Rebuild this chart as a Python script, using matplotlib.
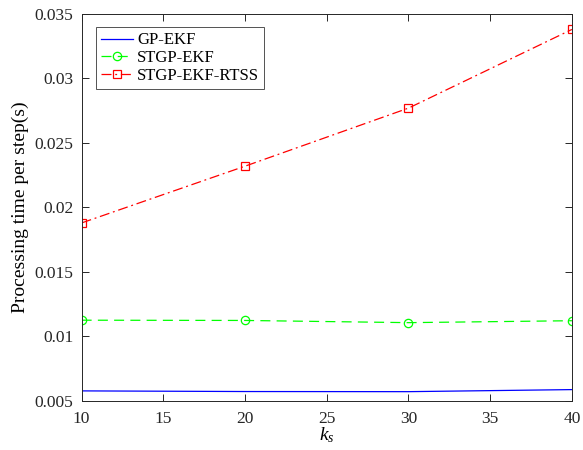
import matplotlib
matplotlib.use("Agg")
import matplotlib.pyplot as plt

ks = [10, 20, 30, 40]
gp_ekf = [0.00578, 0.00573, 0.00572, 0.00588]
stgp_ekf = [0.01126, 0.01124, 0.01107, 0.01122]
stgp_ekf_rtss = [0.0188, 0.0232, 0.0277, 0.0338]
xticks = [10, 15, 20, 25, 30, 35, 40]
yticks = [0.005, 0.01, 0.015, 0.02, 0.025, 0.03, 0.035]
yticklabels = ["0.005", "0.01", "0.015", "0.02", "0.025", "0.03", "0.035"]

plt.rcParams['font.family'] = ['Liberation Serif', 'DejaVu Serif']
plt.rcParams['mathtext.fontset'] = 'custom'
plt.rcParams['mathtext.it'] = 'Liberation Serif:italic'
plt.rcParams['mathtext.rm'] = 'Liberation Serif'

fig = plt.figure(figsize=(5.83, 4.5), dpi=100)
ax = fig.add_axes([0.140, 0.109, 0.841, 0.860])

ax.plot(ks, gp_ekf, color='blue', lw=0.9, label='GP-EKF')
ax.plot(ks, stgp_ekf, color='#00ff00', lw=0.9, ls=(0, (8, 5)), marker='o',
        markersize=6, markerfacecolor='none', markeredgewidth=0.9, label='STGP-EKF')
ax.plot(ks, stgp_ekf_rtss, color='red', lw=0.9, ls=(0, (8, 3, 1.5, 3)), marker='s',
        markersize=6, markerfacecolor='none', markeredgewidth=0.9, label='STGP-EKF-RTSS')

ax.set_xlim(10, 40)
ax.set_ylim(0.005, 0.035)
ax.set_xticks(xticks)
ax.set_yticks(yticks)
ax.set_yticklabels(yticklabels)
ax.tick_params(direction='in', top=True, right=True, length=5, width=0.7,
               labelsize=12.5, colors='#262626', labelcolor='#262626')
ax.tick_params(axis='x', pad=7)
ax.tick_params(axis='y', pad=6)
for s in ax.spines.values():
    s.set_linewidth(0.7)
    s.set_color('#262626')

ax.set_xlabel('$k_s$', fontsize=14, labelpad=-1)
ax.set_ylabel('Processing time per step(s)', fontsize=14, labelpad=4)

leg = ax.legend(loc='upper left', bbox_to_anchor=(0.03, 0.965), fontsize=12,
                frameon=True, fancybox=False, edgecolor='#262626',
                handlelength=1.9, borderpad=0.3, labelspacing=0.1, handletextpad=0.25,
                borderaxespad=0)
leg.get_frame().set_linewidth(0.7)

fig.savefig('out.png', dpi=100)
